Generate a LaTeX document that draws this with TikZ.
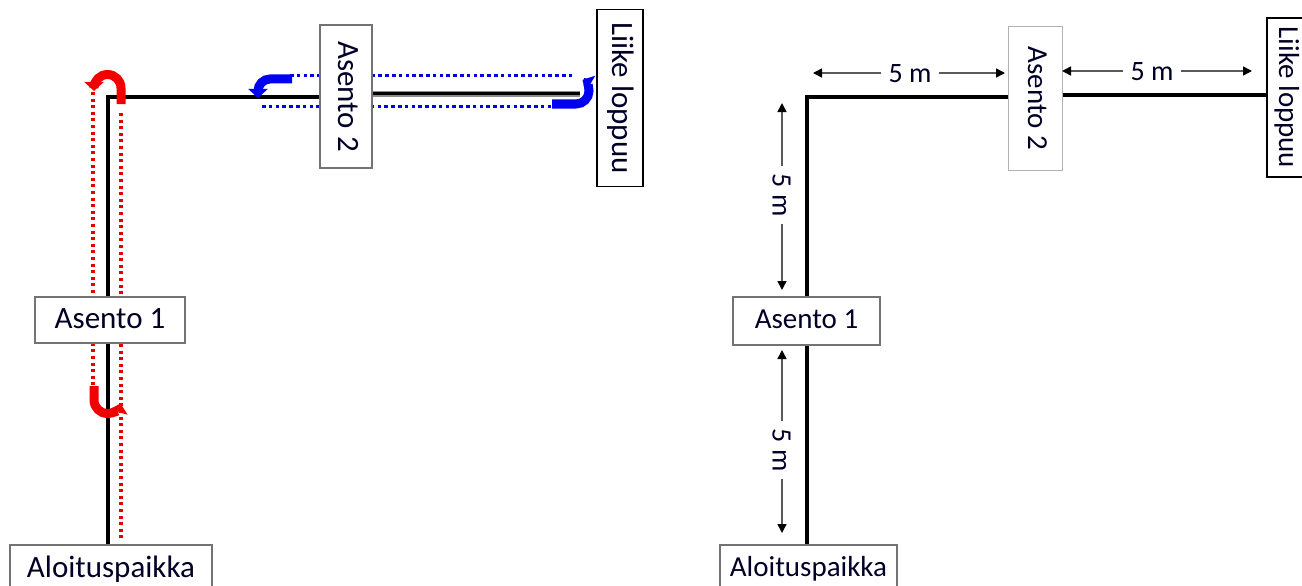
\documentclass[tikz,border=0pt]{standalone}
\usepackage{fontspec}
\setmainfont{Carlito}
\usetikzlibrary{arrows.meta,backgrounds}
\begin{document}
\begin{tikzpicture}[x=1pt,y=-1pt,
  box/.style={draw=black!55, line width=1.6pt, fill=white, inner sep=0pt,
    font=\fontsize{31}{31}\selectfont, text=black!85!blue, text height=21pt, text depth=5pt},
  boxr/.style={box, font=\fontsize{29}{29}\selectfont, text height=19pt, text depth=5pt},
  route/.style={line width=4.5pt, black},
  reddot/.style={red!90!black, line width=3.5pt, dash pattern=on 3pt off 3.6pt},
  bluedot/.style={blue!90!black, line width=3pt, dash pattern=on 3.6pt off 3.2pt},
  turnred/.style={red!95!black, line width=9pt, -{Triangle[length=9pt,width=19pt]}},
  turnblue/.style={blue!95!black, line width=9pt, -{Triangle[length=9pt,width=19pt]}},
  dim/.style={black!65, line width=1.5pt,
    {Triangle[length=9pt,width=9pt,color=black]}-{Triangle[length=9pt,width=9pt,color=black]}},
  dimlabel/.style={fill=white, inner xsep=8pt, inner ysep=2pt,
    font=\fontsize{28}{28}\selectfont, text=black!85!blue, text height=19pt, text depth=0pt}
]
\useasboundingbox (0,0) rectangle (1302,586);

% ---------------- left diagram ----------------
\node[box, minimum width=202pt, minimum height=48pt] (aloA) at (111,569) {Aloituspaikka};
\node[box, minimum width=150pt, minimum height=46pt] (as1A) at (110,320) {Asento 1};
\node[box, rotate=-90, minimum width=143pt, minimum height=52pt] (as2A) at (346,96.5) {Asento 2};
\node[box, draw=black, line width=1.3pt, rotate=-90, minimum width=177pt, minimum height=46pt] (likA) at (620,98) {Liike loppuu};

\coordinate (cA) at (108,97);
\coordinate (rA) at (580,94);
\coordinate (rdL1) at (93,92);   \coordinate (rdL2) at (93,388);
\coordinate (rdR1) at (121,113); \coordinate (rdR2) at (121,538);
\coordinate (bdT1) at (290,76);  \coordinate (bdT2) at (575,76);
\coordinate (bdB1) at (262,106); \coordinate (bdB2) at (556,106);

\begin{pgfonlayer}{background}
  \draw[reddot] (rdL1) -- (rdL2);
  \draw[reddot] (rdR1) -- (rdR2);
  \draw[bluedot] (bdT1) -- (bdT2);
  \draw[bluedot] (bdB1) -- (bdB2);
  \draw[route] (cA |- aloA.center) -- (cA) -- (cA -| as2A.center);
  \draw[black!45, line width=6pt] (as2A.center |- rA) -- (rA);
  \draw[black, line width=3pt] (as2A.center |- rA) -- (rA);
\end{pgfonlayer}

% red U-turn arrows
\draw[turnred] (121,104) -- (121,88) arc (0:-180:13.5) -- (94,91);
\draw[turnred] (94,386) -- (94,400) arc (180:15:13.5);
% blue U-turn arrows
\draw[turnblue] (292,79) -- (270,79) arc (270:180:12) -- (258,98);
\draw[turnblue] (552,104) -- (576,104) arc (90:-60:13);

% ---------------- right diagram ----------------
\node[boxr, minimum width=177pt, minimum height=48pt] (aloB) at (808.5,569) {Aloituspaikka};
\node[boxr, minimum width=147pt, minimum height=48pt] (as1B) at (806.5,321) {Asento 1};
\node[boxr, draw=black!30, line width=1pt, rotate=-90, minimum width=143pt, minimum height=54pt] (as2B) at (1035,98.5) {Asento 2};
\node[boxr, draw=black, line width=1.3pt, rotate=-90, minimum width=159pt, minimum height=38pt] (likB) at (1286,97.5) {Liike loppuu};

\coordinate (cB) at (807,97);
\coordinate (rB) at (1266,95);
\begin{pgfonlayer}{background}
  \draw[route] (cB |- aloB.center) -- (cB) -- (cB -| as2B.center);
  \draw[route] (as2B.center |- rB) -- (rB);
\end{pgfonlayer}

% dimension arrows
\coordinate (h1a) at (813,73);  \coordinate (h1b) at (1005,73);
\coordinate (h2a) at (1062,71); \coordinate (h2b) at (1252,71);
\coordinate (v1a) at (782,103); \coordinate (v1b) at (782,290);
\coordinate (v2a) at (782,350); \coordinate (v2b) at (782,533);
\draw[dim] (h1a) -- (h1b);
\draw[dim] (h2a) -- (h2b);
\draw[dim] (v1a) -- (v1b);
\draw[dim] (v2a) -- (v2b);
\node[dimlabel] (lh1) at (910,73) {5 m};
\node[dimlabel] (lh2) at (1152,71) {5 m};
\node[dimlabel, rotate=-90] (lv1) at (782,195) {5 m};
\node[dimlabel, rotate=-90] (lv2) at (782,450) {5 m};
\end{tikzpicture}
\end{document}
